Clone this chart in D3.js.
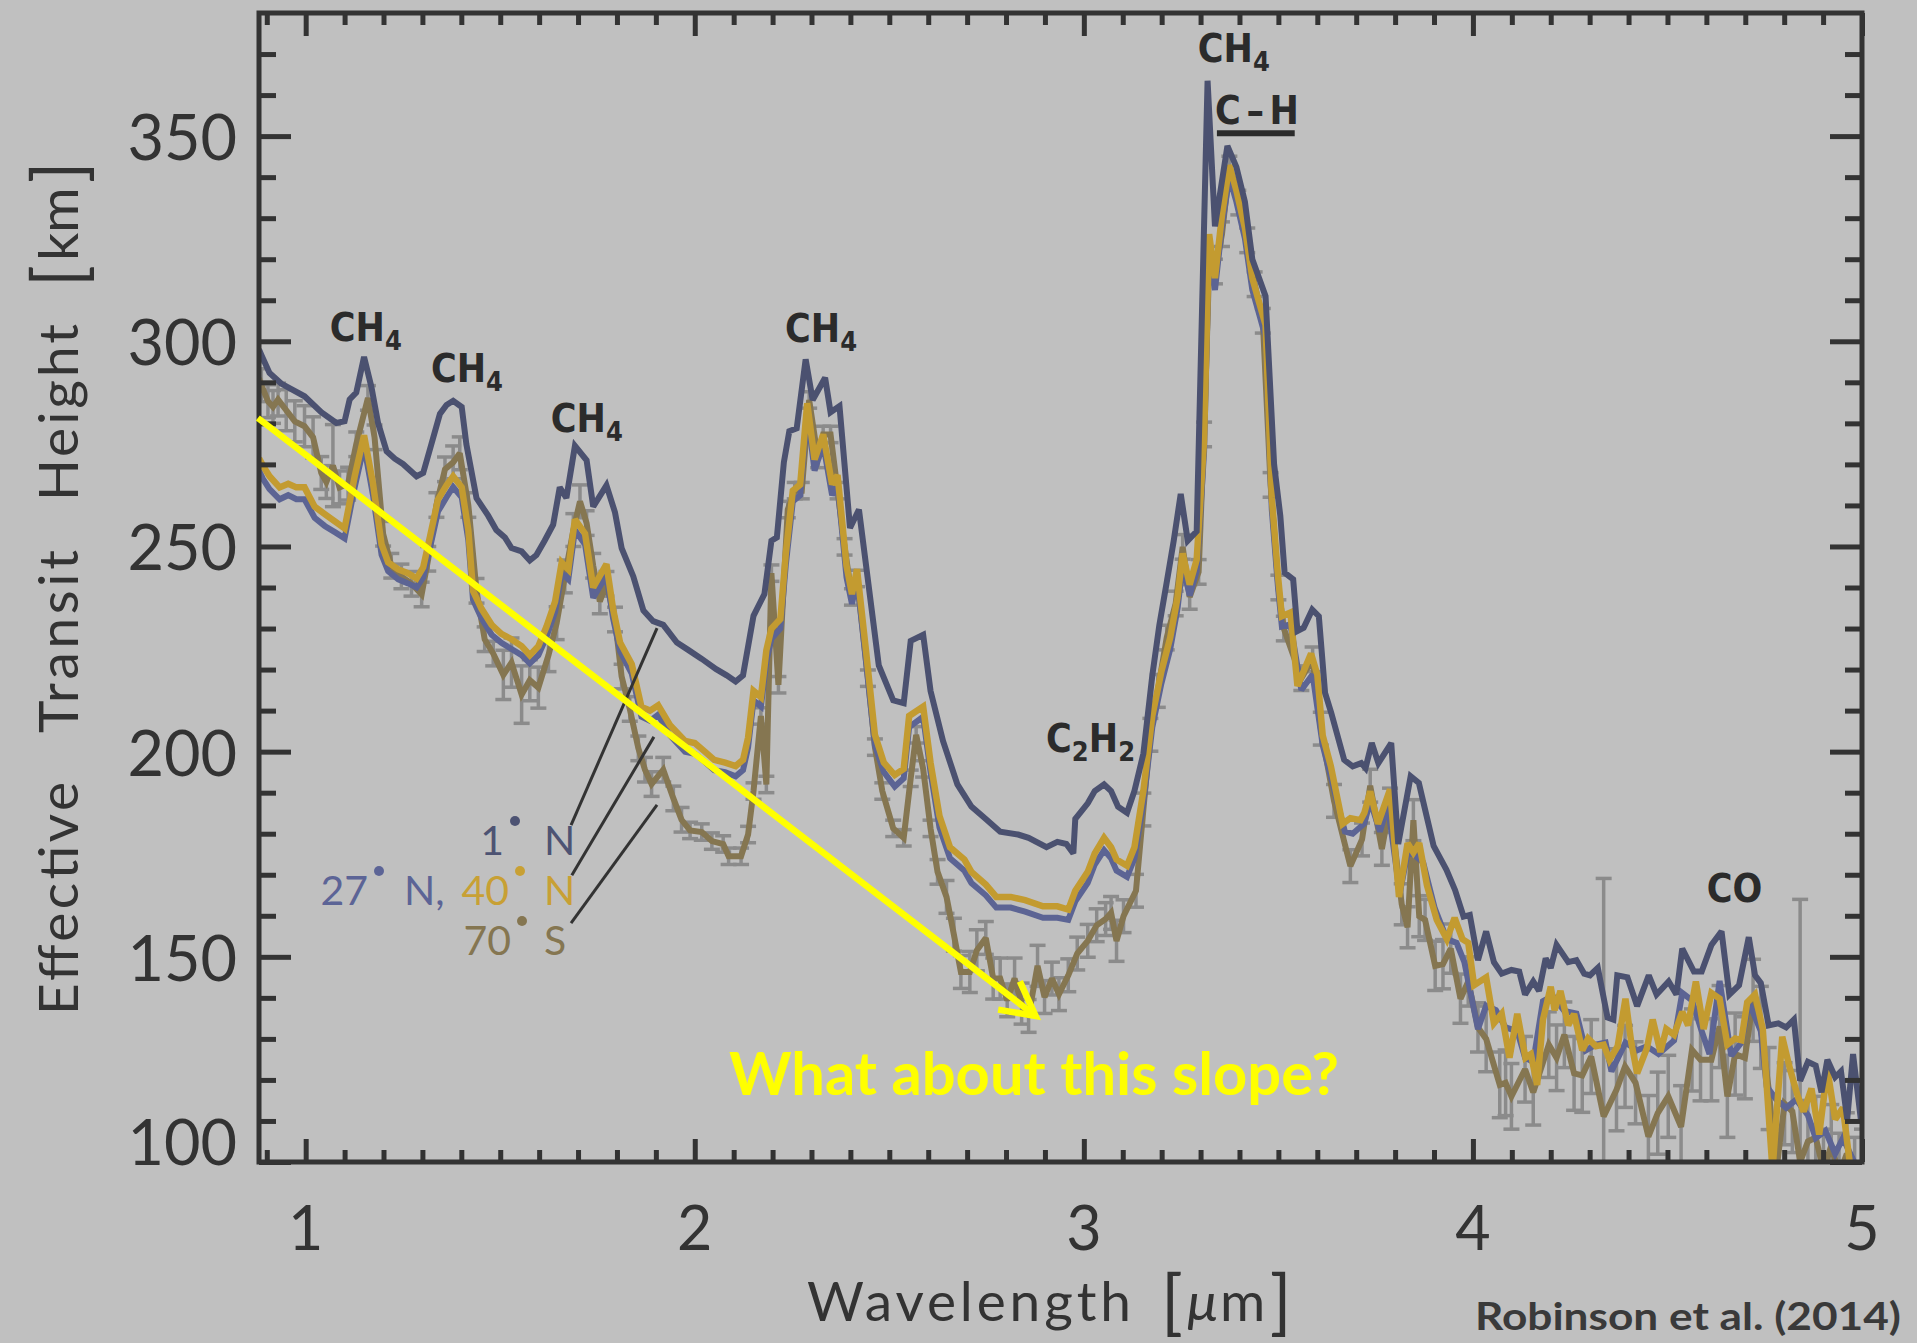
<!DOCTYPE html>
<html><head><meta charset="utf-8">
<script src="https://cdn.jsdelivr.net/npm/d3@7"></script>
<style>
html,body{margin:0;padding:0;background:#c0c0c0;}
svg{display:block;}
</style></head><body>
<svg id="chart" width="1917" height="1343"></svg>
<script>
// ---------------- DATA ----------------
const xDomain = [0.88, 5.0];
const yDomain = [100, 380];
const xMajorTicks = [1, 2, 3, 4, 5];
const yMajorTicks = [100, 150, 200, 250, 300, 350];
const xTitleWords = ["Wavelength", "[\u03bcm]"];
const yTitleWords = ["Effective", "Transit", "Height", "[km]"];

// 1° N  [wavelength µm, height km]
const series1N = [[0.880,298],[0.886,296.7],[0.907,292.3],[0.937,289.7],[0.997,286.6],[1.040,282.7],[1.079,280.1],[1.100,280.5],[1.113,285.8],[1.130,287.5],[1.150,296.2],[1.169,288.8],[1.186,280.1],[1.208,273.2],[1.229,271.4],[1.250,270.1],[1.285,267.1],[1.302,267.9],[1.323,274.9],[1.345,282.3],[1.362,284.5],[1.379,285.5],[1.401,284.0],[1.413,274.9],[1.439,261.8],[1.469,257.5],[1.490,254.0],[1.512,252.2],[1.529,249.6],[1.555,248.8],[1.576,246.6],[1.593,247.9],[1.614,251.4],[1.636,255.3],[1.653,264.4],[1.670,261.8],[1.692,274.5],[1.722,271.0],[1.739,259.7],[1.773,264.9],[1.795,258.3],[1.812,249.6],[1.842,242.7],[1.868,234.4],[1.893,231.8],[1.919,230.9],[1.954,226.6],[1.983,224.8],[2.018,222.6],[2.055,220.1],[2.082,218.6],[2.105,217.1],[2.124,218.6],[2.151,233.1],[2.179,238.4],[2.197,251.4],[2.211,252.2],[2.229,270.5],[2.243,278.1],[2.262,278.8],[2.285,295.6],[2.303,285.7],[2.335,291.1],[2.349,282.7],[2.372,284.2],[2.399,254.5],[2.422,259.0],[2.473,221.0],[2.510,212.5],[2.537,211.8],[2.555,227.0],[2.587,228.5],[2.606,214.8],[2.638,202.6],[2.675,192.0],[2.711,186.6],[2.748,183.6],[2.785,180.5],[2.831,179.8],[2.858,179.0],[2.904,176.7],[2.932,178.0],[2.955,177.5],[2.973,175.2],[2.978,183.6],[3.010,187.4],[3.028,190.4],[3.052,192.0],[3.070,190.4],[3.088,186.6],[3.111,185.1],[3.130,190.4],[3.153,199.5],[3.176,218.6],[3.194,230.8],[3.212,240.7],[3.231,251.4],[3.249,262.8],[3.267,251.4],[3.290,253.7],[3.318,363.5],[3.337,328.0],[3.369,347.6],[3.392,342.5],[3.414,334.0],[3.433,320.0],[3.467,311.0],[3.489,270.0],[3.505,257.4],[3.516,243.6],[3.538,242.0],[3.549,229.4],[3.565,230.2],[3.587,234.6],[3.604,233.0],[3.620,214.3],[3.636,209.4],[3.669,198.0],[3.691,196.4],[3.713,197.2],[3.724,196.0],[3.740,202.1],[3.757,197.2],[3.790,202.1],[3.808,177.5],[3.840,194.0],[3.861,192.4],[3.877,185.9],[3.899,177.0],[3.932,171.2],[3.954,166.3],[3.976,159.8],[3.992,160.2],[4.013,149.2],[4.034,156.2],[4.054,148.7],[4.074,145.9],[4.099,146.8],[4.119,146.4],[4.134,140.8],[4.155,144.0],[4.170,141.7],[4.187,149.6],[4.200,147.3],[4.215,152.9],[4.245,148.7],[4.266,149.2],[4.286,145.9],[4.301,145.5],[4.321,147.3],[4.346,135.2],[4.361,134.7],[4.371,145.5],[4.397,145.0],[4.422,138.0],[4.452,145.5],[4.472,140.8],[4.503,144.0],[4.523,140.8],[4.538,152.0],[4.568,146.4],[4.588,146.4],[4.613,152.9],[4.639,156.2],[4.659,140.8],[4.684,143.1],[4.709,154.8],[4.725,145.5],[4.740,143.6],[4.760,133.3],[4.785,133.8],[4.805,132.8],[4.825,134.7],[4.841,119.8],[4.861,124.4],[4.881,123.5],[4.896,117.0],[4.911,124.9],[4.931,120.7],[4.946,122.1],[4.962,110.4],[4.977,126.3],[4.997,110.4]];

// 27° N
const series27N = [[0.880,268.5],[0.890,266.5],[0.907,264],[0.933,261.5],[0.955,262.5],[0.976,261.5],[0.997,261.5],[1.023,257],[1.049,255],[1.075,253.5],[1.100,252],[1.126,264.5],[1.150,274.5],[1.173,262.5],[1.195,248],[1.212,244],[1.238,242],[1.263,241],[1.285,240],[1.302,242.5],[1.319,249.5],[1.340,258.5],[1.362,262],[1.379,264.5],[1.401,262],[1.418,251.5],[1.430,237],[1.452,232.5],[1.478,228.5],[1.503,226.5],[1.529,225],[1.555,223.5],[1.576,221.5],[1.598,223.5],[1.619,228],[1.641,234],[1.658,243.5],[1.675,242],[1.692,254],[1.718,250.5],[1.739,237.5],[1.773,243],[1.790,232.5],[1.808,224.5],[1.838,219],[1.863,208.5],[1.885,207.5],[1.906,209],[1.936,204],[1.975,200],[2.000,199.5],[2.026,197.5],[2.050,195.5],[2.078,195],[2.105,194],[2.124,195.5],[2.137,201],[2.151,212.5],[2.170,211],[2.184,222],[2.197,227.5],[2.220,230],[2.234,245.5],[2.252,261],[2.271,262.5],[2.289,282.5],[2.308,268.5],[2.330,275],[2.353,262.5],[2.367,265],[2.390,242.5],[2.404,236],[2.417,242],[2.440,222],[2.463,201.5],[2.486,195],[2.514,191.5],[2.537,193.5],[2.551,206],[2.587,208.5],[2.606,195],[2.629,181.5],[2.656,174],[2.693,171],[2.711,168],[2.748,165],[2.775,162],[2.812,162],[2.849,161],[2.895,159.5],[2.932,159.5],[2.960,159],[2.978,163.5],[3.010,168],[3.028,172.5],[3.052,176],[3.070,174],[3.084,171],[3.111,169.5],[3.130,174],[3.153,187.5],[3.176,206],[3.199,216.5],[3.222,225],[3.241,235],[3.254,245.5],[3.272,238],[3.290,244],[3.309,273],[3.322,323.5],[3.337,312.5],[3.355,328],[3.374,340],[3.392,334],[3.414,325],[3.433,312.5],[3.451,306.5],[3.467,301],[3.483,259],[3.499,240],[3.509,230.5],[3.531,231],[3.559,215.0],[3.588,218.8],[3.614,201.5],[3.671,180.5],[3.691,180.0],[3.721,182.5],[3.736,188],[3.761,180.5],[3.781,187.1],[3.812,165.5],[3.832,175.3],[3.847,175],[3.872,173.0],[3.902,161.8],[3.933,154.3],[3.958,153.4],[3.978,148.7],[4.013,132.4],[4.034,138.1],[4.059,137.0],[4.084,132.8],[4.114,131.9],[4.134,125.4],[4.155,124.4],[4.180,139.2],[4.205,140.5],[4.235,136.8],[4.266,136.2],[4.290,127.2],[4.316,128.6],[4.341,129.1],[4.356,122.1],[4.392,129.1],[4.422,127.2],[4.447,128.2],[4.477,126.3],[4.517,129.6],[4.538,141.2],[4.563,139.4],[4.588,131.9],[4.608,126.3],[4.634,144.1],[4.664,125.9],[4.690,129.1],[4.709,139.0],[4.740,131.9],[4.755,118.4],[4.780,115.2],[4.805,113.2],[4.831,115.2],[4.861,111.4],[4.881,105.8],[4.906,107.6],[4.931,102],[4.951,105.8],[4.980,100],[5.000,99]];

// 40° N
const series40N = [[0.880,271.5],[0.890,269.7],[0.907,267.1],[0.933,264.4],[0.955,265.3],[0.976,264.4],[0.997,264.4],[1.023,259.7],[1.049,257.9],[1.075,256.1],[1.100,254.4],[1.126,267.1],[1.150,277.1],[1.173,265.3],[1.195,250.5],[1.212,246.1],[1.238,244.4],[1.263,243.5],[1.285,242.2],[1.302,244.9],[1.319,252.2],[1.340,261.4],[1.362,264.9],[1.379,267.1],[1.401,264.4],[1.418,254.0],[1.430,239.2],[1.452,234.8],[1.478,230.9],[1.503,228.7],[1.529,227.4],[1.555,225.7],[1.576,223.5],[1.598,225.7],[1.619,230.5],[1.641,236.6],[1.658,246.1],[1.675,244.4],[1.692,256.6],[1.718,253.1],[1.739,240.0],[1.773,245.7],[1.790,234.8],[1.808,226.6],[1.838,221.3],[1.863,210.9],[1.885,210.0],[1.906,211.3],[1.936,206.5],[1.975,202.6],[2.000,202.1],[2.026,200.0],[2.050,198.0],[2.078,197.3],[2.105,196.5],[2.124,198.0],[2.137,203.4],[2.151,214.8],[2.170,213.3],[2.184,224.7],[2.197,230.0],[2.220,232.3],[2.234,248.3],[2.252,263.6],[2.271,265.1],[2.289,284.9],[2.308,271.2],[2.330,277.3],[2.353,265.1],[2.367,267.4],[2.390,245.3],[2.404,238.4],[2.417,244.5],[2.440,224.7],[2.463,204.1],[2.486,197.3],[2.514,194.3],[2.537,195.8],[2.551,208.7],[2.587,211.0],[2.606,197.3],[2.629,184.3],[2.656,176.7],[2.693,173.7],[2.711,170.7],[2.748,167.6],[2.775,164.6],[2.812,164.6],[2.849,163.8],[2.895,162.3],[2.932,162.3],[2.960,161.5],[2.978,166.1],[3.010,170.7],[3.028,175.2],[3.052,179.0],[3.070,176.7],[3.084,173.7],[3.111,172.2],[3.130,176.7],[3.153,190.4],[3.176,208.7],[3.199,219.4],[3.222,227.8],[3.241,237.7],[3.254,248.3],[3.272,240.7],[3.290,246.8],[3.309,275.8],[3.322,326.1],[3.337,315.4],[3.355,330.7],[3.374,342.9],[3.392,336.8],[3.414,327.6],[3.433,315.4],[3.451,309.3],[3.467,304.0],[3.483,262.0],[3.499,242.8],[3.509,233.0],[3.531,233.9],[3.549,216.0],[3.584,223.9],[3.600,218.8],[3.614,203.9],[3.635,196.4],[3.665,182.4],[3.685,183.8],[3.711,183.3],[3.721,185.1],[3.736,190.3],[3.756,182.4],[3.787,190.8],[3.810,164.6],[3.832,177.7],[3.847,175.4],[3.862,177.7],[3.882,167.4],[3.907,159.0],[3.933,154.3],[3.953,159.5],[3.973,154.3],[3.988,153.4],[4.003,143.1],[4.034,145.0],[4.054,133.8],[4.074,136.1],[4.094,125.4],[4.114,136.1],[4.135,125.4],[4.149,126.3],[4.165,118.8],[4.180,134.7],[4.200,142.7],[4.210,137.0],[4.225,141.7],[4.245,133.3],[4.260,136.1],[4.281,127.2],[4.296,130.1],[4.316,128.2],[4.336,128.6],[4.351,124.9],[4.372,128.2],[4.392,139.8],[4.407,129.1],[4.422,121.6],[4.447,127.7],[4.462,134.7],[4.482,126.8],[4.497,132.4],[4.517,131.0],[4.538,136.6],[4.553,133.3],[4.573,144.0],[4.593,132.4],[4.613,141.2],[4.634,139.8],[4.654,128.6],[4.674,130.1],[4.690,129.7],[4.705,138.9],[4.725,140.8],[4.745,132.4],[4.770,98.0],[4.795,130.5],[4.815,122.6],[4.835,116.0],[4.850,112.3],[4.870,117.9],[4.890,106.7],[4.911,122.6],[4.931,110.4],[4.951,113.2],[4.971,98.0],[4.995,98.0]];

// 70° S  [wavelength, height, error]
const series70S = [[0.880,291,4],[0.886,289.3,4],[0.903,285.4,4],[0.916,284.0,4],[0.929,285.8,4],[0.950,283.2,5],[0.972,280.5,5],[0.997,279.3,5],[1.019,276.6,5],[1.040,267.9,4],[1.053,265.7,4],[1.070,269.7,10],[1.087,264.4,4],[1.109,265.3,4],[1.130,274.9,3],[1.160,286.2,3],[1.177,276.6,3],[1.199,253.1,3],[1.220,245.3,3],[1.246,242.7,3],[1.272,240.9,3],[1.298,238.3,3],[1.315,247.0,3],[1.336,260.1,3],[1.358,268.8,3],[1.379,270.5,4],[1.396,272.7,4],[1.418,260.1,3],[1.439,239.2,3],[1.460,227.4,3],[1.482,223.9,3],[1.508,218.7,6],[1.529,221.7,6],[1.555,213.9,7],[1.576,217.4,5],[1.598,215.6,5],[1.624,223.5,4],[1.645,231.3,4],[1.666,242.7,4],[1.688,254.0,4],[1.705,261.0,4],[1.722,255.7,3],[1.739,245.3,3],[1.756,236.6,3],[1.773,240.9,3],[1.795,232.2,3],[1.812,218.3,3],[1.833,210.4,3],[1.855,200.8,3],[1.872,195.6,3],[1.889,192.1,3],[1.919,195.6,3],[1.945,188.6,3],[1.966,183.4,3],[1.988,180.8,2],[2.018,180.4,2],[2.044,178.2,2],[2.073,177.5,2],[2.087,174.5,2],[2.119,174.5,2],[2.137,179.8,2],[2.151,190.4,2],[2.170,208.7,2],[2.184,192.0,2],[2.197,243.5,2],[2.215,216.3,2],[2.239,259.0,2],[2.257,263.6,2],[2.275,263.6,2],[2.294,285.7,2],[2.317,271.2,2],[2.330,277.3,2],[2.349,277.3,2],[2.367,263.6,2],[2.385,249.9,2],[2.404,237.7,2],[2.417,242.2,2],[2.445,217.9,2],[2.463,201.1,2],[2.482,190.4,2],[2.510,181.3,2],[2.537,179.0,2],[2.555,193.5,2],[2.569,204.1,2],[2.587,195.8,2],[2.606,181.3,2],[2.624,170.7,3],[2.647,164.6,4],[2.666,155.4,4],[2.684,146.3,4],[2.707,146.3,5],[2.725,151.6,5],[2.748,154.6,4],[2.767,144.7,5],[2.785,144.7,5],[2.803,139.4,4],[2.822,144.7,5],[2.840,138.6,5],[2.858,135.6,4],[2.881,147.8,5],[2.899,140.2,4],[2.918,144.7,4],[2.936,140.9,4],[2.960,145.5,4],[2.983,150.8,4],[3.010,153.9,4],[3.033,157.7,4],[3.056,159.2,4],[3.070,160.7,4],[3.084,153.9,5],[3.102,159.9,4],[3.134,166.1,4],[3.153,185.9,4],[3.171,204.1,4],[3.190,214.8,4],[3.213,227.8,3],[3.236,236.1,3],[3.254,249.9,3],[3.272,237.7,3],[3.295,243.8,3],[3.309,277.3,3],[3.322,318.5,3],[3.337,317.0,3],[3.355,326.1,3],[3.374,342.1,3],[3.397,333.8,3],[3.420,324.6,3],[3.439,313.9,3],[3.460,305,3],[3.480,265,3],[3.500,240,3],[3.514,230,3],[3.559,217.9,3],[3.588,222.5,3],[3.609,205.6,4],[3.643,188.0,4],[3.685,172.1,4],[3.715,178.6,4],[3.736,191.7,4],[3.766,176.3,4],[3.787,187.1,4],[3.817,162.8,5],[3.832,157.2,5],[3.847,183.3,5],[3.862,159.9,5],[3.877,159.0,5],[3.903,147.8,6],[3.923,148.2,6],[3.943,152.0,6],[3.968,139.8,6],[3.988,144.0,6],[4.013,132.8,6],[4.034,130.0,8],[4.069,118.8,8],[4.084,119.3,8],[4.099,116.0,8],[4.134,122.6,8],[4.155,117.0,8],[4.195,128.6,8],[4.215,125.4,8],[4.235,131.0,8],[4.260,121.6,9],[4.281,121.1,9],[4.304,125.7,9],[4.336,111.1,58],[4.369,117.6,10],[4.391,123.3,10],[4.418,119.3,10],[4.451,106.2,10],[4.475,111.9,10],[4.502,116.0,10],[4.535,108.6,10],[4.563,127.3,10],[4.585,124.9,10],[4.613,124.9,10],[4.634,133.0,10],[4.654,116.0,10],[4.674,126.3,10],[4.699,125.4,10],[4.720,139.4,10],[4.740,132.8,10],[4.760,117.9,10],[4.780,98,10],[4.801,114.2,10],[4.821,112.3,10],[4.841,100,64],[4.861,105,10],[4.881,106,10],[4.901,98,10],[4.921,104,10],[4.941,97,10],[4.961,102,10],[4.981,96,10],[5.000,98,10]];

// Molecular band labels, anchored at [wavelength, height]
const bandLabels = [
  {main:"CH", sub:"4", at:[1.062, 300.1]},
  {main:"CH", sub:"4", at:[1.322, 290.1]},
  {main:"CH", sub:"4", at:[1.630, 277.9]},
  {main:"CH", sub:"4", at:[2.232, 299.8]},
  {main:"CH", sub:"4", at:[3.293, 368.1]},
  {main:"C", sub:"2", main2:"H", sub2:"2", at:[2.903, 199.9]},
  {main:"CO", at:[4.601, 163.4]}
];
const chLabel = {text:"C\u2013H", at:[3.337, 352.9], bar:[3.342, 3.542], barAt:350.7};

// Legend
const legendRows = [
  [{t:"1", c:"#4d5373", dot:true}, {t:"N", c:"#4d5373"}],
  [{t:"27", c:"#5c6496", dot:true}, {t:"N,", c:"#5c6496"}, {t:"40", c:"#c8a034", dot:true}, {t:"N", c:"#c8a034"}],
  [{t:"70", c:"#857651", dot:true}, {t:"S", c:"#857651"}]
];

// ---------------- CHART ----------------
const svg = d3.select("#chart");
const M = {left:259, right:1862, top:13, bottom:1162};
const x = d3.scaleLinear().domain(xDomain).range([M.left, M.right]);
const y = d3.scaleLinear().domain(yDomain).range([M.bottom, M.top]);

const DARK = "#333333";
const COL = {n1:"#4b5170", n27:"#5c6494", n40:"#c39b30", s70:"#857651", err:"#8b8b8b"};
const axisFont = "Lato, 'Open Sans', 'DejaVu Sans', sans-serif";
const labFont = "'Liberation Sans Narrow', 'DejaVu Sans Condensed', 'Liberation Sans', sans-serif";

svg.append("rect").attr("width",1917).attr("height",1343).attr("fill","#c0c0c0");

svg.append("defs").append("clipPath").attr("id","plotclip")
  .append("rect").attr("x",M.left).attr("y",M.top)
  .attr("width",M.right-M.left).attr("height",M.bottom-M.top);

const plot = svg.append("g").attr("clip-path","url(#plotclip)");

// error bars (70° S)
const eb = plot.append("g").attr("stroke",COL.err).attr("stroke-width",3.5).attr("fill","none");
series70S.forEach(d=>{
  const cx = x(d[0]), y1 = y(d[1]-d[2]), y2 = y(d[1]+d[2]);
  eb.append("line").attr("x1",cx).attr("x2",cx).attr("y1",y1).attr("y2",y2);
  eb.append("line").attr("x1",cx-8).attr("x2",cx+8).attr("y1",y1).attr("y2",y1);
  eb.append("line").attr("x1",cx-8).attr("x2",cx+8).attr("y1",y2).attr("y2",y2);
});

const line = d3.line().x(d=>x(d[0])).y(d=>y(d[1]));
function drawSeries(data, color, w){
  plot.append("path").datum(data).attr("d",line)
    .attr("fill","none").attr("stroke",color).attr("stroke-width",w)
    .attr("stroke-linejoin","miter").attr("stroke-miterlimit",2.5);
}
drawSeries(series70S, COL.s70, 6);
drawSeries(series27N, COL.n27, 6);
drawSeries(series40N, COL.n40, 6.5);
drawSeries(series1N, COL.n1, 6);

// ---------------- AXES ----------------
const xMinor = d3.range(9,50).map(v=>v/10).filter(v=>!xMajorTicks.includes(v));
const yMinor = d3.range(110,380,10).filter(v=>!yMajorTicks.includes(v));

function styleAxis(g){
  g.select(".domain").remove();
  g.selectAll("line").attr("stroke",DARK).attr("stroke-width",5);
  g.selectAll("text").remove();
}
svg.append("g").attr("transform",`translate(0,${M.bottom})`)
  .call(d3.axisBottom(x).tickValues(xMajorTicks).tickSize(-23).tickSizeOuter(0)).call(styleAxis);
svg.append("g").attr("transform",`translate(0,${M.bottom})`)
  .call(d3.axisBottom(x).tickValues(xMinor).tickSize(-12).tickSizeOuter(0)).call(styleAxis);
svg.append("g").attr("transform",`translate(0,${M.top})`)
  .call(d3.axisTop(x).tickValues(xMajorTicks).tickSize(-23).tickSizeOuter(0)).call(styleAxis);
svg.append("g").attr("transform",`translate(0,${M.top})`)
  .call(d3.axisTop(x).tickValues(xMinor).tickSize(-12).tickSizeOuter(0)).call(styleAxis);
svg.append("g").attr("transform",`translate(${M.left},0)`)
  .call(d3.axisLeft(y).tickValues(yMajorTicks).tickSize(-32).tickSizeOuter(0)).call(styleAxis);
svg.append("g").attr("transform",`translate(${M.left},0)`)
  .call(d3.axisLeft(y).tickValues(yMinor).tickSize(-17).tickSizeOuter(0)).call(styleAxis);
svg.append("g").attr("transform",`translate(${M.right},0)`)
  .call(d3.axisRight(y).tickValues(yMajorTicks).tickSize(-32).tickSizeOuter(0)).call(styleAxis);
svg.append("g").attr("transform",`translate(${M.right},0)`)
  .call(d3.axisRight(y).tickValues(yMinor).tickSize(-17).tickSizeOuter(0)).call(styleAxis);

svg.append("rect").attr("x",M.left).attr("y",M.top)
  .attr("width",M.right-M.left).attr("height",M.bottom-M.top)
  .attr("fill","none").attr("stroke",DARK).attr("stroke-width",5);

// tick labels
svg.append("g").selectAll("text").data(xMajorTicks).join("text")
  .attr("x",d=>x(d)).attr("y",1250).attr("text-anchor","middle")
  .attr("font-family",axisFont).attr("font-size",61).attr("fill",DARK)
  .text(d=>d);
svg.append("g").selectAll("text").data(yMajorTicks).join("text")
  .attr("x",237).attr("y",d=> d===yDomain[0] ? y(d)+3 : y(d)+24).attr("text-anchor","end")
  .attr("font-family",axisFont).attr("font-size",63).attr("fill",DARK)
  .text(d=>d);

// bracketed unit word: large brackets, letters in between
function unitWord(sel, word, fs, italicMu){
  const inner = word.slice(1,-1);
  sel.append("tspan").attr("font-size",fs*1.3).attr("dy",fs*0.1).text("[");
  const t = sel.append("tspan").attr("dy",-fs*0.1).attr("dx",fs*0.08);
  if(italicMu && inner.startsWith("\u03bc")){
    t.append("tspan").attr("font-style","italic").text("\u03bc");
    t.append("tspan").attr("dx",fs*0.04).text(inner.slice(1));
  } else t.text(inner);
  sel.append("tspan").attr("font-size",fs*1.3).attr("dy",fs*0.1).attr("dx",fs*0.08).text("]");
}

// axis titles (word layout: start offset and length in px)
const xTitleLayout = [[807,324],[1161,148]];
xTitleWords.forEach((w,i)=>{
  const t = svg.append("text").attr("x",xTitleLayout[i][0]).attr("y",1321)
    .attr("font-family",axisFont).attr("font-size",55).attr("fill",DARK);
  if(w.startsWith("[")) unitWord(t, w, 55, true);
  else t.attr("textLength",xTitleLayout[i][1]).attr("lengthAdjust","spacing").text(w);
});
const yTitleLayout = [[0,233],[282,183],[514,177],[728,128]];
const yt = svg.append("g").attr("transform","translate(78,1015) rotate(-90)");
yTitleWords.forEach((w,i)=>{
  const t = yt.append("text").attr("x",yTitleLayout[i][0]).attr("y",0)
    .attr("font-family",axisFont).attr("font-size",55).attr("fill",DARK);
  if(w.startsWith("[")) unitWord(t, w, 55, false);
  else t.attr("textLength",yTitleLayout[i][1]).attr("lengthAdjust","spacing").text(w);
});

// ---------------- ANNOTATIONS ----------------
const ann = svg.append("g").attr("font-family",labFont).attr("font-weight","bold")
  .attr("fill","#2b2b2b");
bandLabels.forEach(b=>{
  const t = ann.append("text").attr("x",x(b.at[0])).attr("y",y(b.at[1])).attr("font-size",39);
  t.append("tspan").text(b.main);
  if(b.sub){
    t.append("tspan").attr("font-size",27).attr("dy",9).text(b.sub);
  }
  if(b.main2){
    t.append("tspan").attr("dy",-9).text(b.main2);
    t.append("tspan").attr("font-size",27).attr("dy",9).text(b.sub2);
  }
});
ann.append("text").attr("x",x(chLabel.at[0])).attr("y",y(chLabel.at[1]))
  .attr("font-size",39).attr("textLength",84).attr("lengthAdjust","spacing").text(chLabel.text);
ann.append("line")
  .attr("x1",x(chLabel.bar[0])).attr("x2",x(chLabel.bar[1]))
  .attr("y1",y(chLabel.barAt)).attr("y2",y(chLabel.barAt))
  .attr("stroke","#2b2b2b").attr("stroke-width",6);

// legend text
const legendLayout = [
  {base:855, starts:[[491,504],[544]]},
  {base:905, starts:[[324,368],[404],[460,509],[544]]},
  {base:955, starts:[[464,511],[544]]}
];
const lg = svg.append("g").attr("font-family",axisFont).attr("font-size",41);
legendRows.forEach((row,i)=>{
  const L = legendLayout[i];
  row.forEach((p,j)=>{
    const s = L.starts[j];
    if(s.length===2){
      lg.append("text").attr("x",s[1]).attr("y",L.base).attr("text-anchor","end")
        .attr("fill",p.c).text(p.t);
      if(p.dot) lg.append("circle").attr("cx",s[1]+11).attr("cy",L.base-34).attr("r",5).attr("fill",p.c);
    } else {
      lg.append("text").attr("x",s[0]).attr("y",L.base).attr("fill",p.c).text(p.t);
    }
  });
});
// legend leader lines (in data coordinates)
const leaders = [[[1.682,182.1],[1.903,230.1]],[[1.684,169.9],[1.895,203.6]],[[1.682,158.2],[1.903,187.0]]];
svg.append("g").selectAll("line").data(leaders).join("line")
  .attr("x1",d=>x(d[0][0])).attr("y1",d=>y(d[0][1]))
  .attr("x2",d=>x(d[1][0])).attr("y2",d=>y(d[1][1]))
  .attr("stroke",DARK).attr("stroke-width",3);

// yellow arrow
const arrowFrom = [0.877, 281.3], arrowTo = [2.876, 135.6];
const ax1 = x(arrowFrom[0]), ay1 = y(arrowFrom[1]), ax2 = x(arrowTo[0]), ay2 = y(arrowTo[1]);
const ang = Math.atan2(ay2-ay1, ax2-ax1);
const barb = 38, spread = 28*Math.PI/180;
const b1 = [ax2 - barb*Math.cos(ang-spread), ay2 - barb*Math.sin(ang-spread)];
const b2 = [ax2 - barb*Math.cos(ang+spread), ay2 - barb*Math.sin(ang+spread)];
svg.append("line").attr("x1",ax1).attr("y1",ay1).attr("x2",ax2-3*Math.cos(ang)).attr("y2",ay2-3*Math.sin(ang))
  .attr("stroke","#ffff00").attr("stroke-width",6.5);
svg.append("path").attr("d",`M${b1[0]},${b1[1]}L${ax2},${ay2}L${b2[0]},${b2[1]}`)
  .attr("fill","none").attr("stroke","#ffff00").attr("stroke-width",6.5)
  .attr("stroke-linejoin","miter").attr("stroke-miterlimit",10);

svg.append("text").attr("x",729).attr("y",1095)
  .attr("font-family","Lato, 'Open Sans', sans-serif").attr("font-weight","bold")
  .attr("font-size",60).attr("fill","#ffff00")
  .attr("textLength",610).attr("lengthAdjust","spacingAndGlyphs")
  .text("What about this slope?");

svg.append("text").attr("x",1475).attr("y",1330)
  .attr("font-family","Lato, 'Open Sans', sans-serif").attr("font-weight","bold")
  .attr("font-size",38).attr("fill","#3a3a3a")
  .attr("textLength",426).attr("lengthAdjust","spacingAndGlyphs")
  .text("Robinson et al. (2014)");
</script>
</body></html>
